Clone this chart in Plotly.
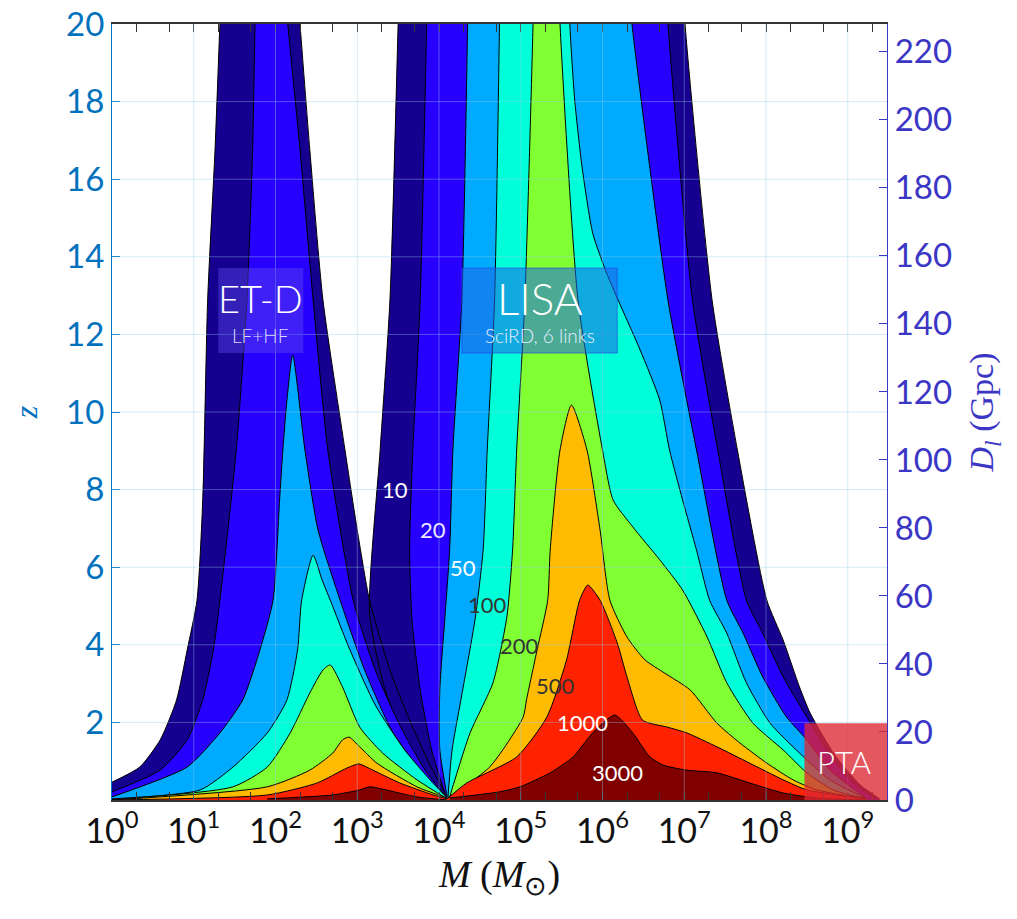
import numpy as np
import plotly.graph_objects as go

# ---------------- DATA ----------------
levels = [10, 20, 50, 100, 200, 500, 1000, 3000]
level_colors = ["#15008F", "#2800FF", "#00AAFF", "#00FFD9", "#80FF33", "#FFBB00", "#FF2200", "#800000"]

# ET-D horizon curves (log10 M/Msun, z); the first/last points above z=20 continue the edges out of view
ET_10_logM = [0.00, 0.34, 0.59, 0.79, 0.92, 1.04, 1.11, 1.17, 1.26, 1.32, 1.35, 2.25, 2.30, 2.42, 2.58, 2.85, 3.00, 3.15, 3.40, 3.64, 3.89, 4.10]
ET_10_z = [0.46, 0.85, 1.55, 2.58, 3.87, 5.15, 7.73, 12.89, 16.75, 20.0, 21.5, 21.5, 20.0, 16.75, 12.89, 9.02, 6.96, 5.15, 3.35, 2.06, 0.90, 0.08]
ET_20_logM = [0.00, 0.59, 0.92, 1.11, 1.24, 1.32, 1.52, 1.65, 1.72, 1.75, 1.77, 2.08, 2.15, 2.30, 2.46, 2.64, 2.95, 3.22, 3.52, 3.83, 4.09]
ET_20_z = [0.21, 0.77, 1.55, 2.58, 3.87, 5.15, 9.02, 12.89, 16.75, 20.0, 21.5, 21.5, 20.0, 16.75, 12.89, 9.02, 5.15, 3.35, 1.93, 0.77, 0.08]
ET_50_logM = [0.00, 0.92, 1.32, 1.60, 1.81, 1.97, 2.05, 2.09, 2.14, 2.21, 2.36, 2.52, 2.79, 3.09, 3.42, 3.77, 4.10]
ET_50_z = [0.08, 0.85, 1.73, 2.58, 3.87, 5.15, 7.73, 9.02, 10.31, 11.47, 9.02, 6.96, 5.15, 3.35, 1.80, 0.77, 0.05]
ET_100_logM = [0.00, 1.08, 1.48, 1.90, 2.14, 2.27, 2.32, 2.46, 2.57, 2.67, 2.91, 3.22, 3.58, 3.89, 4.10]
ET_100_z = [0.03, 0.26, 0.85, 1.73, 2.58, 3.87, 5.15, 6.31, 5.67, 5.15, 3.87, 2.45, 1.29, 0.52, 0.05]
ET_200_logM = [0.00, 1.48, 1.90, 2.18, 2.42, 2.58, 2.67, 2.82, 3.03, 3.31, 3.73, 4.10]
ET_200_z = [0.01, 0.34, 0.85, 1.73, 2.76, 3.35, 3.48, 2.91, 1.88, 1.21, 0.52, 0.03]
ET_500_logM = [0.00, 1.90, 2.42, 2.70, 2.82, 2.90, 3.03, 3.24, 3.73, 4.10]
ET_500_z = [0.00, 0.34, 0.77, 1.21, 1.55, 1.62, 1.37, 0.95, 0.34, 0.05]
ET_1000_logM = [0.00, 1.90, 2.51, 2.87, 3.02, 3.19, 3.52, 3.93, 4.10]
ET_1000_z = [0.00, 0.13, 0.44, 0.82, 0.93, 0.77, 0.44, 0.13, 0.03]
ET_3000_logM = [1.90, 2.70, 3.03, 3.15, 3.31, 3.73, 4.10]
ET_3000_z = [0.03, 0.13, 0.26, 0.34, 0.28, 0.08, 0.00]

# LISA (SciRD, 6 links) horizon curves (log10 M/Msun, z)
LISA_10_logM = [4.04, 3.64, 3.34, 3.15, 3.28, 3.40, 3.50, 3.52, 6.98, 7.01, 7.34, 7.65, 8.01, 8.21, 8.41, 8.54, 8.84, 9.15, 9.39]
LISA_10_z = [0.18, 1.29, 2.84, 4.82, 9.02, 12.89, 20.0, 21.5, 21.5, 20.0, 12.89, 9.02, 5.15, 4.12, 2.91, 2.24, 1.16, 0.39, 0.03]
LISA_20_logM = [4.08, 3.91, 3.77, 3.67, 3.64, 3.68, 3.77, 3.85, 3.87, 6.76, 6.80, 7.10, 7.41, 7.76, 7.96, 8.21, 8.50, 8.78, 9.09, 9.33]
LISA_20_z = [0.13, 1.29, 2.84, 4.64, 6.44, 9.02, 12.89, 20.0, 21.5, 21.5, 20.0, 12.89, 9.02, 5.15, 4.30, 3.17, 2.14, 1.16, 0.39, 0.05]
LISA_50_logM = [4.10, 4.01, 4.01, 4.07, 4.13, 4.17, 4.28, 4.35, 4.36, 6.30, 6.36, 6.80, 7.15, 7.52, 7.72, 7.96, 8.25, 8.50, 8.78, 9.23]
LISA_50_z = [0.08, 1.29, 2.84, 4.64, 6.44, 9.02, 12.89, 20.0, 21.5, 21.5, 20.0, 12.89, 9.02, 5.15, 4.30, 3.17, 2.14, 1.55, 0.77, 0.03]
LISA_100_logM = [4.11, 4.16, 4.29, 4.44, 4.54, 4.59, 4.68, 4.74, 4.75, 5.59, 5.60, 5.66, 5.75, 5.88, 6.05, 6.19, 6.46, 6.70,
                 6.82, 6.98, 7.15, 7.31, 7.52, 7.76, 8.05, 8.41, 8.78, 9.23]
LISA_100_z = [0.08, 1.29, 2.84, 4.64, 6.44, 9.02, 12.89, 20.0, 21.5, 21.5, 20.0, 18.04, 16.31, 14.61, 13.58, 12.89, 11.60,
              10.31, 9.02, 7.73, 6.44, 5.15, 4.30, 3.02, 1.98, 1.21, 0.52, 0.03]
LISA_200_logM = [4.13, 4.38, 4.66, 4.83, 4.90, 4.95, 5.05, 5.15, 5.16, 5.46, 5.48, 5.70, 6.00, 6.13, 6.37, 6.70, 6.98,
                 7.28, 7.52, 7.84, 8.21, 8.50, 8.82, 9.23]
LISA_200_z = [0.08, 1.73, 3.02, 4.72, 6.44, 9.02, 12.89, 20.0, 21.5, 21.5, 20.0, 12.89, 9.02, 7.73, 7.04, 6.19, 5.41,
              4.20, 3.02, 1.98, 1.29, 0.70, 0.26, 0.03]
LISA_500_logM = [4.10, 4.62, 5.03, 5.07, 5.20, 5.33, 5.36, 5.48, 5.62, 5.81, 5.97, 6.09, 6.30, 6.52, 6.76, 7.07, 7.40,
                 7.68, 8.01, 8.33, 8.62, 9.23]
LISA_500_z = [0.05, 0.85, 2.14, 2.58, 3.87, 5.15, 6.44, 9.02, 10.18, 9.02, 6.96, 5.15, 4.20, 3.61, 3.27, 2.84, 1.98,
              1.47, 0.95, 0.52, 0.26, 0.03]
LISA_1000_logM = [4.10, 4.34, 4.95, 5.32, 5.56, 5.72, 5.82, 5.97, 6.18, 6.30, 6.49, 6.79, 7.03, 7.40, 7.80, 8.21, 8.50, 9.23]
LISA_1000_z = [0.03, 0.44, 1.11, 2.14, 3.61, 5.15, 5.54, 5.15, 4.05, 3.17, 2.06, 1.88, 1.73, 1.37, 0.95, 0.52, 0.26, 0.03]
LISA_3000_logM = [4.13, 4.74, 4.99, 5.36, 5.64, 5.88, 6.15, 6.37, 6.58, 6.74, 7.03, 7.40, 7.80, 8.21, 8.62, 9.23]
LISA_3000_z = [0.05, 0.21, 0.34, 0.70, 1.11, 1.73, 2.19, 1.73, 1.11, 0.90, 0.77, 0.70, 0.44, 0.18, 0.05, 0.00]

ET_curves = [(ET_10_logM, ET_10_z), (ET_20_logM, ET_20_z), (ET_50_logM, ET_50_z), (ET_100_logM, ET_100_z),
             (ET_200_logM, ET_200_z), (ET_500_logM, ET_500_z), (ET_1000_logM, ET_1000_z), (ET_3000_logM, ET_3000_z)]
LISA_curves = [(LISA_10_logM, LISA_10_z), (LISA_20_logM, LISA_20_z), (LISA_50_logM, LISA_50_z),
               (LISA_100_logM, LISA_100_z), (LISA_200_logM, LISA_200_z), (LISA_500_logM, LISA_500_z),
               (LISA_1000_logM, LISA_1000_z), (LISA_3000_logM, LISA_3000_z)]

x_tick_exponents = list(range(0, 10))
z_ticks = list(range(2, 21, 2))
dl_ticks = list(range(0, 221, 20))
z_max = 20
dl_max = 228.2
logM_range = [0, 9.48]

# ---------------- FIGURE ----------------
fig = go.Figure()
SMOOTH = 0.6
for lev, col, et, li in zip(levels, level_colors, ET_curves, LISA_curves):
    for lm, zz in (et, li):
        fig.add_trace(go.Scatter(x=10 ** np.array(lm), y=zz, mode="lines",
                                 line=dict(width=0, shape="spline", smoothing=SMOOTH),
                                 fill="tozeroy", fillcolor=col, hoverinfo="skip", showlegend=False))
    for lm, zz in (et, li):
        fig.add_trace(go.Scatter(x=10 ** np.array(lm), y=zz, mode="lines",
                                 line=dict(color="black", width=1, shape="spline", smoothing=SMOOTH),
                                 hoverinfo="skip", showlegend=False))

# empty trace to activate the right axis
fig.add_trace(go.Scatter(x=[None], y=[None], yaxis="y2", showlegend=False, hoverinfo="skip"))

shapes = []
grid_col = "rgba(150,200,230,0.40)"
for k in x_tick_exponents[1:]:
    shapes.append(dict(type="line", xref="x", yref="y", x0=10 ** k, x1=10 ** k, y0=0, y1=z_max,
                       line=dict(color=grid_col, width=1), layer="above"))
for zt in z_ticks[:-1]:
    shapes.append(dict(type="line", xref="paper", yref="y", x0=0, x1=1, y0=zt, y1=zt,
                       line=dict(color=grid_col, width=1), layer="above"))
# detector label boxes
shapes.append(dict(type="rect", xref="x", yref="y", x0=10 ** 1.30, x1=10 ** 2.34, y0=11.52, y1=13.71,
                   fillcolor="rgba(90,70,235,0.45)", line=dict(width=0), layer="above"))
shapes.append(dict(type="rect", xref="x", yref="y", x0=10 ** 4.28, x1=10 ** 6.18, y0=11.52, y1=13.71,
                   fillcolor="rgba(30,100,225,0.55)", line=dict(color="rgba(40,60,230,0.6)", width=1), layer="above"))
shapes.append(dict(type="rect", xref="x", yref="y", x0=10 ** 8.47, x1=10 ** 9.48, y0=0, y1=1.98,
                   fillcolor="rgba(222,40,50,0.78)", line=dict(width=0), layer="above"))

ann = []
label_font = "Lato"
WL = 300
WN = 400
ann.append(dict(x=1.82, y=12.95, xref="x", yref="y", text="ET-D", showarrow=False,
                font=dict(family=label_font, size=38, color="white", weight=WL)))
ann.append(dict(x=1.82, y=11.98, xref="x", yref="y", text="LF+HF", showarrow=False,
                font=dict(family=label_font, size=19, color="#DCD8FF", weight=WL)))
ann.append(dict(x=5.23, y=12.95, xref="x", yref="y", text="LISA", showarrow=False,
                font=dict(family=label_font, size=44, color="white", weight=WL)))
ann.append(dict(x=5.23, y=11.98, xref="x", yref="y", text="SciRD, 6 links", showarrow=False,
                font=dict(family=label_font, size=19, color="#E6EEFF", weight=WL)))
ann.append(dict(x=8.95, y=0.98, xref="x", yref="y", text="PTA", showarrow=False,
                font=dict(family=label_font, size=31, color="white", weight=WL)))

cl_text = ["10", "20", "50", "100", "200", "500", "1000", "3000"]
cl_x = [3.46, 3.93, 4.29, 4.59, 4.99, 5.42, 5.76, 6.18]
cl_y = [7.99, 6.96, 5.98, 5.03, 3.99, 2.96, 2.01, 0.72]
cl_col = ["white", "#E8E8FF", "white", "#333333", "#333333", "#333333", "white", "white"]
for t, xx, yy, c in zip(cl_text, cl_x, cl_y, cl_col):
    ann.append(dict(x=xx, y=yy, xref="x", yref="y", text=t, showarrow=False,
                    font=dict(family=label_font, size=22, color=c, weight=WN)))

left_col = "#0072BD"
right_col = "#3B36C4"
fig.update_layout(
    width=1017, height=919,
    margin=dict(l=104, r=138, t=16, b=127),
    paper_bgcolor="white", plot_bgcolor="white",
    font=dict(family=label_font),
    shapes=shapes, annotations=ann,
    xaxis=dict(type="log", range=logM_range, automargin=False,
               tickvals=[10 ** k for k in x_tick_exponents],
               ticktext=["10<sup>%d</sup>" % k for k in x_tick_exponents],
               tickfont=dict(size=34, color="#111111", family=label_font, weight=WN),
               ticklabeloverflow="allow",
               showgrid=False, zeroline=False, showline=True, linecolor="#333333", linewidth=1.5,
               mirror="allticks", ticks="inside", ticklen=8, tickcolor="#333333",
               minor=dict(ticks="inside", ticklen=4, tickcolor="#333333", showgrid=False),
               title=dict(text="<i>M</i> (<i>M</i><sub>⊙</sub>)",
                          font=dict(family="Liberation Serif", size=38, color="#111111"), standoff=12)),
    yaxis=dict(range=[0, z_max], tickvals=z_ticks, showgrid=False, zeroline=False, automargin=False,
               tickfont=dict(size=33, color=left_col, family=label_font, weight=WN),
               ticklabeloverflow="allow",
               showline=True, linecolor=left_col, linewidth=1.2, ticks="inside", ticklen=8, tickcolor=left_col,
               title=dict(text="<i>z</i>", font=dict(family="Liberation Serif", size=32, color=left_col),
                          standoff=22)),
    yaxis2=dict(range=[0, dl_max], tickvals=dl_ticks, overlaying="y", side="right", showgrid=False,
                zeroline=False, automargin=False, ticklabeloverflow="allow",
                tickfont=dict(size=33, color=right_col, family=label_font, weight=WN),
                showline=True, linecolor=right_col, linewidth=1.2, ticks="inside", ticklen=8, tickcolor=right_col,
                title=dict(text="<i>D</i><sub><i>l</i></sub> (Gpc)",
                           font=dict(family="Liberation Serif", size=34, color=right_col), standoff=18)),
)

fig.write_html("out.html")
